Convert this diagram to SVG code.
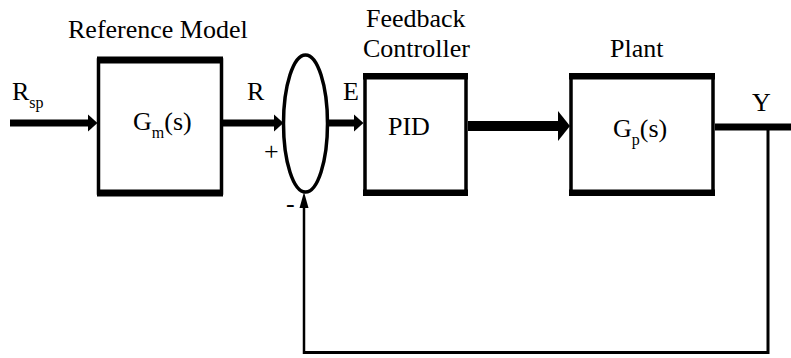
<svg xmlns="http://www.w3.org/2000/svg" width="791" height="358" viewBox="0 0 791 358">
<style>
text{font-family:'Liberation Serif','Times New Roman',Times,'DejaVu Serif',serif;fill:#000}
.lbl{font-size:26px}
.sub{font-size:16px}
.sign{font-size:26px}
.box{fill:#fff;stroke:#000;stroke-width:3.5}
.bar{fill:#000}
.wire{fill:none;stroke:#000}
.head{fill:#000}
</style>
<rect width="791" height="358" fill="#fff"/>
<g id="connectors">
<line class="wire" x1="10" y1="123" x2="89" y2="123" stroke-width="7"/>
<polygon class="head" points="88,114.5 97.5,123 88,131.5"/>
<line class="wire" x1="223" y1="123" x2="275" y2="123" stroke-width="7"/>
<polygon class="head" points="274,114.5 283.5,123 274,131.5"/>
<line class="wire" x1="328" y1="123" x2="355" y2="123" stroke-width="7"/>
<polygon class="head" points="354,114.5 363.5,123 354,131.5"/>
<line class="wire" x1="468" y1="126" x2="559" y2="126" stroke-width="10"/>
<polygon class="head" points="558,111 570,126 558,141"/>
<line class="wire" x1="715" y1="127" x2="791" y2="127" stroke-width="7"/>
<polyline class="wire" points="768,127 768,352.5 304,352.5" stroke-width="3"/>
<line class="wire" x1="304" y1="354" x2="304" y2="206" stroke-width="2.5"/>
<polygon class="head" points="299.5,208 304,192 308.5,208"/>
</g>
<g id="reference-model">
<rect class="box" x="98.5" y="60" width="123" height="133"/>
<rect class="bar" x="97" y="56.5" width="126" height="7"/>
<rect class="bar" x="97" y="189.5" width="126" height="7"/>
<text class="lbl" x="133" y="130">G<tspan class="sub" dy="8">m</tspan><tspan dy="-8">(s)</tspan></text>
<text class="lbl" x="68" y="38">Reference Model</text>
</g>
<g id="summing-junction">
<ellipse cx="305.5" cy="123.5" rx="22" ry="68.5" fill="#fff" stroke="#000" stroke-width="3.5"/>
<text class="sign" x="264" y="160">+</text>
<text class="sign" x="286" y="212">-</text>
</g>
<g id="pid-controller">
<rect class="box" x="365" y="76" width="101" height="117"/>
<rect class="bar" x="363" y="73" width="105" height="6.5"/>
<rect class="bar" x="363" y="189.5" width="105" height="6.5"/>
<text class="lbl" x="388" y="135">PID</text>
<text class="lbl" x="366" y="27">Feedback</text>
<text class="lbl" x="363" y="57">Controller</text>
</g>
<g id="plant">
<rect class="box" x="571" y="76" width="142" height="117"/>
<rect class="bar" x="569" y="73" width="146" height="6.5"/>
<rect class="bar" x="569" y="189.5" width="146" height="6.5"/>
<text class="lbl" x="613" y="137">G<tspan class="sub" dy="8">p</tspan><tspan dy="-8">(s)</tspan></text>
<text class="lbl" x="610" y="57">Plant</text>
</g>
<g id="signal-labels">
<text class="lbl" x="12" y="100">R<tspan class="sub" dy="8">sp</tspan></text>
<text class="lbl" x="247" y="100">R</text>
<text class="lbl" x="343" y="100">E</text>
<text class="lbl" x="752" y="111">Y</text>
</g>
</svg>
